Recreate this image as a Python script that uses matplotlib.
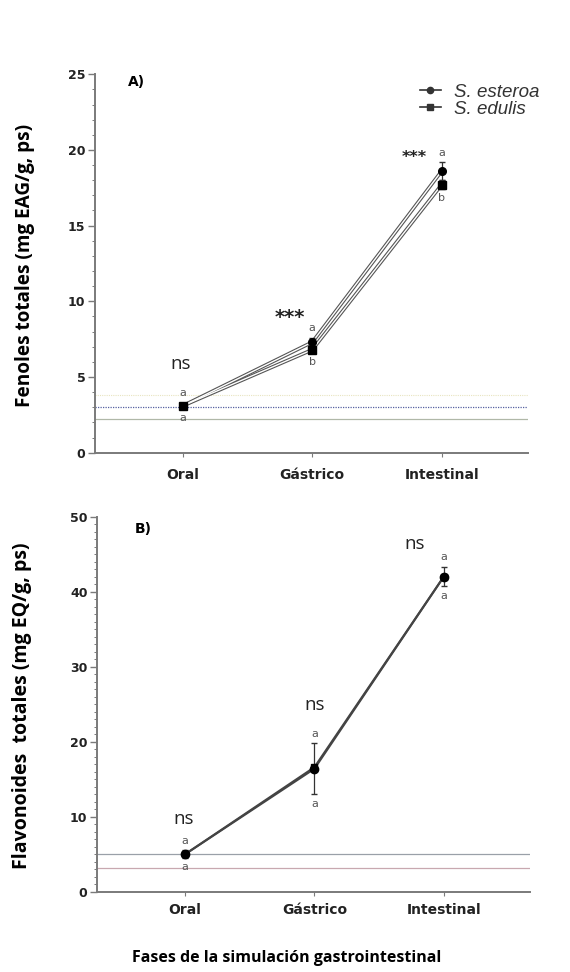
import numpy as np
import matplotlib
matplotlib.use("Agg")
from matplotlib import pyplot as plt
from matplotlib.ticker import MultipleLocator

# Datos de la simulacion gastrointestinal
fases = ["Oral", "Gástrico", "Intestinal"]

# A) Fenoles totales (mg EAG/g, ps)
fen_esteroa = [3.1, 7.3, 18.6]
fen_esteroa_err = [0.2, 0.3, 0.6]
fen_edulis = [3.1, 6.8, 17.7]
fen_edulis_err = [0.2, 0.2, 0.3]
fen_letras_sup = ["a", "a", "a"]
fen_letras_inf = ["a", "b", "b"]
fen_sig = ["ns", "***", "***"]
fen_ref = [3.0, 2.2]

# B) Flavonoides totales (mg EQ/g, ps)
flav_esteroa = [5.0, 16.4, 42.0]
flav_esteroa_err = [0.5, 3.4, 1.3]
flav_edulis = [5.0, 16.6, 42.0]
flav_edulis_err = [0.4, 1.0, 0.8]
flav_letras_sup = ["a", "a", "a"]
flav_letras_inf = ["a", "a", "a"]
flav_sig = ["ns", "ns", "ns"]
flav_ref = [5.0, 3.2]

fig = plt.figure(figsize=(5.70, 9.72), dpi=100)
axA = fig.add_axes([0.1667, 0.5343, 0.760, 0.3893])
axB = fig.add_axes([0.1705, 0.0826, 0.760, 0.3858])

x = np.arange(len(fases))
gris = "#7a7a7a"


def serie_hueca(ax, y, err, marker, ms):
    # linea con borde oscuro y centro claro
    ax.plot(x, y, color="#555555", lw=2.6, zorder=3, solid_capstyle="round")
    ax.plot(x, y, color="white", lw=1.0, zorder=3.1)
    ax.errorbar(x, y, yerr=err, fmt="none", ecolor="#333333", elinewidth=0.9,
                capsize=2.5, zorder=3.2)
    ax.plot(x, y, ls="none", marker=marker, ms=ms, color="black", zorder=4)


def estilo(ax, ymax, major, minor, xpad):
    ax.set_xlim(-0.68, 2.67)
    ax.set_ylim(0, ymax)
    ax.set_xticks(x)
    ax.set_xticklabels(fases, fontsize=10, fontweight="bold", color="#222222")
    ax.yaxis.set_major_locator(MultipleLocator(major))
    ax.yaxis.set_minor_locator(MultipleLocator(minor))
    ax.tick_params(axis="y", labelsize=9, colors="#222222", length=5, width=1,
                   pad=2)
    ax.tick_params(axis="y", which="minor", length=2.5, width=0.7, color=gris)
    ax.tick_params(axis="y", which="major", color=gris)
    ax.tick_params(axis="x", length=3, width=0.8, color=gris, pad=xpad)
    for lab in ax.get_yticklabels():
        lab.set_fontweight("bold")
    for s in ["top", "right"]:
        ax.spines[s].set_visible(False)
    for s in ["left", "bottom"]:
        ax.spines[s].set_color(gris)
        ax.spines[s].set_linewidth(1.4)


# ---- Panel A ----
axA.axhline(fen_ref[0], color="#5560a0", lw=0.9, ls=(0, (1, 1)), zorder=1)
axA.axhline(fen_ref[1], color="#b0b8a8", lw=0.9, zorder=1)
axA.axhline(3.8, color="#e8e4c0", lw=0.8, ls=(0, (1, 1)), zorder=1)
serie_hueca(axA, fen_edulis, fen_edulis_err, "s", 5.5)
serie_hueca(axA, fen_esteroa, fen_esteroa_err, "o", 5.5)
estilo(axA, 25, 5, 1, 8)

for i in range(len(fases)):
    top = max(fen_esteroa[i] + fen_esteroa_err[i], fen_edulis[i] + fen_edulis_err[i])
    bot = min(fen_esteroa[i] - fen_esteroa_err[i], fen_edulis[i] - fen_edulis_err[i])
    axA.text(x[i], top + 0.3, fen_letras_sup[i], ha="center", va="bottom",
             fontsize=8, color="#555555")
    axA.text(x[i], bot - 0.25, fen_letras_inf[i], ha="center", va="top",
             fontsize=8, color="#555555")
axA.text(x[0] - 0.02, 5.86, fen_sig[0], ha="center", va="center", fontsize=13.5,
         family="Open Sans", color="#222222")
axA.text(x[1] - 0.17, 8.9, fen_sig[1], ha="center", va="center", fontsize=14,
         fontweight="bold", color="#222222")
axA.text(x[2] - 0.21, 19.5, fen_sig[2], ha="center", va="center", fontsize=11.5,
         fontweight="bold", color="#222222")
axA.text(-0.36, 24.5, "A)", fontsize=10, fontweight="bold", ha="center",
         va="center")

# leyenda
axA.plot([], [], color="#333333", lw=1.2, marker="o", ms=4.5, label="S. esteroa")
axA.plot([], [], color="#333333", lw=1.2, marker="s", ms=4.5, label="S. edulis")
leg = axA.legend(loc="upper left", bbox_to_anchor=(0.72, 1.01), frameon=False,
                 prop={"family": "Liberation Sans", "size": 13.5,
                       "style": "italic"},
                 handlelength=1.1, handletextpad=0.7, labelspacing=0.0,
                 borderpad=0.2)
for t in leg.get_texts():
    t.set_color("#333333")

# ---- Panel B ----
axB.axhline(flav_ref[0], color="#9aa0a8", lw=0.9, zorder=1)
axB.axhline(flav_ref[1], color="#c8a8b0", lw=0.9, zorder=1)
axB.plot(x, flav_edulis, color="#444444", lw=1.5, zorder=3)
axB.plot(x, flav_esteroa, color="#444444", lw=1.5, zorder=3)
axB.errorbar(x, flav_esteroa, yerr=flav_esteroa_err, fmt="none", ecolor="#333333",
             elinewidth=0.9, capsize=2.5, zorder=3.2)
axB.plot(x, flav_edulis, ls="none", marker="s", ms=5, color="black", zorder=4)
axB.plot(x, flav_esteroa, ls="none", marker="o", ms=6, color="black", zorder=4)
estilo(axB, 50, 10, 1, 5)

for i in range(len(fases)):
    top = flav_esteroa[i] + flav_esteroa_err[i]
    bot = flav_esteroa[i] - flav_esteroa_err[i]
    axB.text(x[i], top + 0.6, flav_letras_sup[i], ha="center", va="bottom",
             fontsize=8, color="#555555")
    axB.text(x[i], bot - 0.6, flav_letras_inf[i], ha="center", va="top",
             fontsize=8, color="#555555")
sig_y = [9.7, 24.9, 46.4]
sig_dx = [-0.01, 0.0, -0.225]
for i in range(len(fases)):
    axB.text(x[i] + sig_dx[i], sig_y[i], flav_sig[i], ha="center", va="center",
             fontsize=13.5, family="Open Sans", color="#222222")
axB.text(-0.32, 48.4, "B)", fontsize=10, fontweight="bold", ha="center",
         va="center")

# titulos de ejes
fig.text(0.044, 1 - 265 / 972, "Fenoles totales (mg EAG/g, ps)", rotation=90,
         ha="center", va="center", fontsize=13.7, fontweight="bold",
         family="Open Sans")
fig.text(0.039, 1 - 706 / 972, "Flavonoides  totales (mg EQ/g, ps)", rotation=90,
         ha="center", va="center", fontsize=14, fontweight="bold",
         family="Open Sans")
fig.text(0.502, 1 - 958 / 972, "Fases de la simulación gastrointestinal",
         ha="center", va="center", fontsize=11.5, fontweight="bold",
         family="Open Sans")

fig.savefig("out.png", dpi=100, facecolor="white")
